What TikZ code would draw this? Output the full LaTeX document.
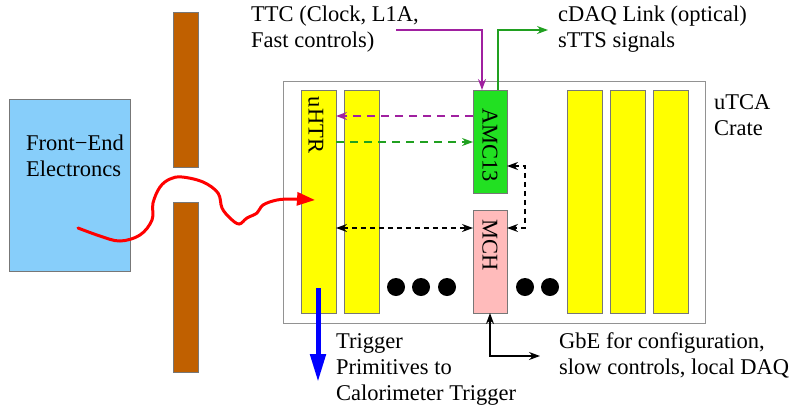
\documentclass[tikz,border=0pt]{standalone}
\usepackage{fontspec}
\setmainfont{Liberation Serif}
\usetikzlibrary{arrows.meta,calc}
\definecolor{feblue}{HTML}{87CEFA}
\definecolor{barbrown}{HTML}{C06000}
\definecolor{slotyel}{HTML}{FFFF00}
\definecolor{amcgreen}{HTML}{22E022}
\definecolor{mchpink}{HTML}{FFBBBB}
\definecolor{ttcpurple}{HTML}{A020A0}
\definecolor{daqgreen}{HTML}{20A020}
\definecolor{edgegray}{HTML}{777777}
\definecolor{trigblue}{HTML}{0000FF}
\begin{document}
\begin{tikzpicture}[x=1pt,y=-1pt,
  box/.style={draw=edgegray,line width=1pt,inner sep=0pt,outer sep=0pt,anchor=north west},
  slotbox/.style={box,fill=slotyel,minimum width=35pt,minimum height=223pt},
  dotnode/.style={circle,fill=black,minimum size=18pt,inner sep=0pt},
  lbl/.style={inner sep=0pt,anchor=north west,align=left,font=\fontsize{22.5}{26}\selectfont},
  vlbl/.style={inner sep=0pt,rotate=-90,font=\fontsize{22.5}{26}\selectfont},
  tip/.style={-{Stealth[length=11pt,width=8pt]}},
  tips/.style={{Stealth[length=11pt,width=8pt]}-{Stealth[length=11pt,width=8pt]}},
  conn/.style={line width=1.2pt},
  dashA/.style={dash pattern=on 8pt off 6pt},
  dashB/.style={dash pattern=on 5pt off 4pt}]
\useasboundingbox (0,0) rectangle (794,408);
% front-end
\node[box,fill=feblue,minimum width=121pt,minimum height=172pt] (fe) at (9,99) {};
\node[lbl] (fetext) at (26,135) {Front−End\\Electroncs};
% wall
\node[box,fill=barbrown,minimum width=25pt,minimum height=155pt] (bar1) at (173,12) {};
\node[box,fill=barbrown,minimum width=25pt,minimum height=170pt] (bar2) at (173,202) {};
% crate
\node[box,draw=edgegray!80,minimum width=422pt,minimum height=242pt] (crate) at (283,81) {};
\node[slotbox] (uhtr) at (301,90) {};
\node[slotbox] (slot2) at (344,90) {};
\node[box,fill=amcgreen,minimum width=34pt,minimum height=103pt] (amc) at (473,90) {};
\node[box,fill=mchpink,minimum width=34pt,minimum height=103pt] (mch) at (473,210) {};
\node[slotbox] (s3) at (567,90) {};
\node[slotbox] (s4) at (610,90) {};
\node[slotbox] (s5) at (653,90) {};
\node[vlbl] (uhtrtext) at (316,125) {uHTR};
\node[vlbl] (amctext) at (490,145) {AMC13};
\node[vlbl] (mchtext) at (490,245) {MCH};
% dots
\node[dotnode] (d1) at (396,287) {};
\node[dotnode] (d2) at (421,287) {};
\node[dotnode] (d3) at (447,287) {};
\node[dotnode] (d4) at (525,287) {};
\node[dotnode] (d5) at (550,287) {};
% texts
\node[lbl] (crtext) at (714,94) {uTCA\\Crate};
\node[lbl] (ttctext) at (251,6) {TTC (Clock, L1A,\\Fast controls)};
\node[lbl] (daqtext) at (558,6) {cDAQ Link (optical)\\sTTS signals};
\node[lbl] (gbetext) at (559,332) {GbE for configuration,\\slow controls, local DAQ};
\node[lbl] (trigtext) at (336,333) {Trigger\\Primitives to\\Calorimeter Trigger};
% connectors
\coordinate (ttcstart) at (396,30);
\draw[conn,ttcpurple,tip] (ttcstart) -| ([xshift=-8pt]amc.north);
\coordinate (daqend) at (548,30);
\draw[conn,daqgreen,tip] ([xshift=8pt]amc.north) |- (daqend);
\coordinate (p1) at ($(amc.north west)+(0,26)$);
\draw[conn,ttcpurple,dashA,tip] (p1) -- (p1 -| uhtr.east);
\coordinate (g1) at ($(uhtr.north east)+(0,52)$);
\draw[conn,daqgreen,dashA,tip] (g1) -- (g1 -| amc.west);
\coordinate (k1) at ($(uhtr.north east)+(0,138)$);
\draw[conn,black,dashB,tips] (k1) -- (k1 -| mch.west);
\draw[conn,black,dashB,tips] ($(amc.north east)+(0,76)$) -- ++(18,0) |- (k1 -| mch.east);
\coordinate (gbeend) at (540,356);
\draw[conn,black,tips] (mch.south) |- (gbeend);
\coordinate (blueA) at (318,288);
\coordinate (blueB) at (318,382);
\draw[trigblue,line width=5pt,-{Triangle[length=28pt,width=15pt]}] (blueA) -- (blueB);
\draw[red,line width=3pt,line cap=round,-{Triangle[length=18pt,width=13pt]}] plot[smooth,tension=0.6] coordinates {(78,228) (100,236) (120,241) (140,235) (152,220) (153,203) (160,187) (170,179) (182,177) (203,182) (218,193) (222,208) (230,218) (239,224) (247,218) (257,213) (263,205) (277,200) (293,199) (315,200)};
\end{tikzpicture}
\end{document}
